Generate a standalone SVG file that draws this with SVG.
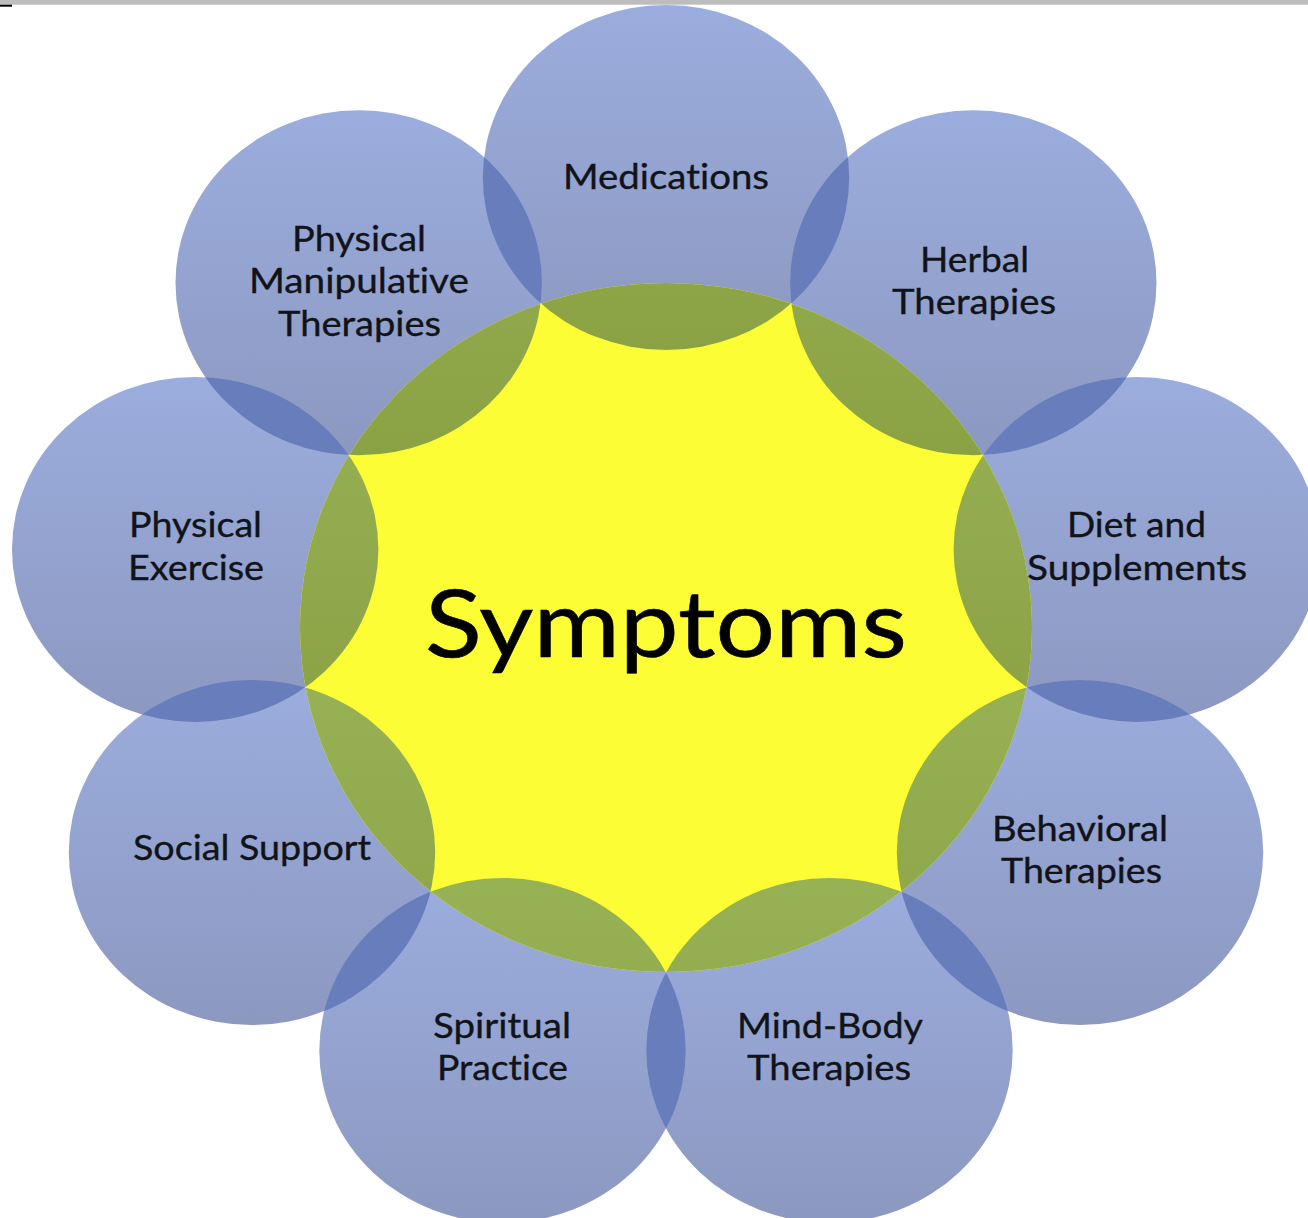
<svg xmlns="http://www.w3.org/2000/svg" xmlns:xlink="http://www.w3.org/1999/xlink" width="1308" height="1218" viewBox="0 0 1308 1218">
  <style>
    .petal { fill: url(#blueGrad); }
    .core { fill: #fdfd36; }
    .lensG { fill: url(#greenGrad); }
    .lensB { fill: #687dbc; }
    .lbl { font-family: "Lato", "Open Sans", sans-serif; font-size: 35px; fill: #111318; stroke: #111318; stroke-width: 0.35px; text-anchor: middle; font-variant-ligatures: none; font-feature-settings: "liga" 0, "dlig" 0; }
    .big { font-family: "Lato", "Open Sans", sans-serif; font-size: 94px; fill: #000; stroke: #000; stroke-width: 0.6px; text-anchor: middle; font-variant-ligatures: none; font-feature-settings: "liga" 0, "dlig" 0; }
  </style>
  <defs>
    <linearGradient id="blueGrad" x1="0" y1="0" x2="0" y2="1">
      <stop offset="0" stop-color="#9badde"/>
      <stop offset="1" stop-color="#8c98c0"/>
    </linearGradient>
    <linearGradient id="greenGrad" x1="0" y1="0" x2="0" y2="1">
      <stop offset="0" stop-color="#97b155"/>
      <stop offset="1" stop-color="#8ba244"/>
    </linearGradient>
    <!-- outer petals, 40 degrees apart, starting at the top -->
    <ellipse id="e0" cx="666" cy="177.5" rx="183.2" ry="172.5"/>
    <ellipse id="e1" cx="973.3" cy="282.8" rx="183.2" ry="172.5"/>
    <ellipse id="e2" cx="1136.8" cy="549.4" rx="183.2" ry="172.5"/>
    <ellipse id="e3" cx="1080" cy="852.5" rx="183.2" ry="172.5"/>
    <ellipse id="e4" cx="829.5" cy="1050.4" rx="183.2" ry="172.5"/>
    <ellipse id="e5" cx="502.5" cy="1050.4" rx="183.2" ry="172.5"/>
    <ellipse id="e6" cx="252" cy="852.5" rx="183.2" ry="172.5"/>
    <ellipse id="e7" cx="195.2" cy="549.4" rx="183.2" ry="172.5"/>
    <ellipse id="e8" cx="358.7" cy="282.8" rx="183.2" ry="172.5"/>
    <ellipse id="coreShape" cx="666" cy="627.5" rx="366" ry="344.5"/>
    <clipPath id="cCore"><use href="#coreShape"/></clipPath>
    <clipPath id="c0"><use href="#e0"/></clipPath>
    <clipPath id="c1"><use href="#e1"/></clipPath>
    <clipPath id="c2"><use href="#e2"/></clipPath>
    <clipPath id="c3"><use href="#e3"/></clipPath>
    <clipPath id="c4"><use href="#e4"/></clipPath>
    <clipPath id="c5"><use href="#e5"/></clipPath>
    <clipPath id="c6"><use href="#e6"/></clipPath>
    <clipPath id="c7"><use href="#e7"/></clipPath>
    <clipPath id="c8"><use href="#e8"/></clipPath>
  </defs>

  <rect x="0" y="0" width="1308" height="1218" fill="#ffffff"/>

  <g id="nodes">
    <g id="node-medications">
      <use href="#e0" class="petal"/>
      <text class="lbl" x="666" y="189" textLength="206" lengthAdjust="spacingAndGlyphs">Medications</text>
    </g>
    <g id="node-herbal">
      <use href="#e1" class="petal"/>
      <text class="lbl" x="974.5" y="272" textLength="109" lengthAdjust="spacingAndGlyphs">Herbal</text>
      <text class="lbl" x="974" y="314" textLength="164" lengthAdjust="spacingAndGlyphs">Therapies</text>
    </g>
    <g id="node-diet">
      <use href="#e2" class="petal"/>
      <text class="lbl" x="1136.5" y="537" textLength="139" lengthAdjust="spacingAndGlyphs">Diet and</text>
      <text class="lbl" x="1137" y="580" textLength="220" lengthAdjust="spacingAndGlyphs">Supplements</text>
    </g>
    <g id="node-behavioral">
      <use href="#e3" class="petal"/>
      <text class="lbl" x="1080" y="841" textLength="176" lengthAdjust="spacingAndGlyphs">Behavioral</text>
      <text class="lbl" x="1081.5" y="883" textLength="161" lengthAdjust="spacingAndGlyphs">Therapies</text>
    </g>
    <g id="node-mindbody">
      <use href="#e4" class="petal"/>
      <text class="lbl" x="830" y="1038" textLength="186" lengthAdjust="spacingAndGlyphs">Mind-Body</text>
      <text class="lbl" x="829" y="1080" textLength="164" lengthAdjust="spacingAndGlyphs">Therapies</text>
    </g>
    <g id="node-spiritual">
      <use href="#e5" class="petal"/>
      <text class="lbl" x="502" y="1038" textLength="138" lengthAdjust="spacingAndGlyphs">Spiritual</text>
      <text class="lbl" x="502.5" y="1080" textLength="131" lengthAdjust="spacingAndGlyphs">Practice</text>
    </g>
    <g id="node-social">
      <use href="#e6" class="petal"/>
      <text class="lbl" x="252" y="860" textLength="238" lengthAdjust="spacingAndGlyphs">Social Support</text>
    </g>
    <g id="node-exercise">
      <use href="#e7" class="petal"/>
      <text class="lbl" x="195.5" y="537" textLength="133" lengthAdjust="spacingAndGlyphs">Physical</text>
      <text class="lbl" x="196" y="580" textLength="136" lengthAdjust="spacingAndGlyphs">Exercise</text>
    </g>
    <g id="node-manipulative">
      <use href="#e8" class="petal"/>
      <text class="lbl" x="359" y="251" textLength="134" lengthAdjust="spacingAndGlyphs">Physical</text>
      <text class="lbl" x="359" y="293" textLength="220" lengthAdjust="spacingAndGlyphs">Manipulative</text>
      <text class="lbl" x="359.5" y="336" textLength="163" lengthAdjust="spacingAndGlyphs">Therapies</text>
    </g>
  </g>

  <g id="node-symptoms">
    <use href="#coreShape" class="core"/>
    <text class="big" x="666" y="657" textLength="482" lengthAdjust="spacingAndGlyphs">Symptoms</text>
  </g>

  <!-- overlap tints: petals over the core, and neighbouring petals over each other -->
  <g id="overlaps">
    <g clip-path="url(#cCore)">
      <use href="#e0" class="lensG"/>
      <use href="#e1" class="lensG"/>
      <use href="#e2" class="lensG"/>
      <use href="#e3" class="lensG"/>
      <use href="#e4" class="lensG"/>
      <use href="#e5" class="lensG"/>
      <use href="#e6" class="lensG"/>
      <use href="#e7" class="lensG"/>
      <use href="#e8" class="lensG"/>
    </g>
    <use href="#e0" class="lensB" clip-path="url(#c1)"/>
    <use href="#e1" class="lensB" clip-path="url(#c2)"/>
    <use href="#e2" class="lensB" clip-path="url(#c3)"/>
    <use href="#e3" class="lensB" clip-path="url(#c4)"/>
    <use href="#e4" class="lensB" clip-path="url(#c5)"/>
    <use href="#e5" class="lensB" clip-path="url(#c6)"/>
    <use href="#e6" class="lensB" clip-path="url(#c7)"/>
    <use href="#e7" class="lensB" clip-path="url(#c8)"/>
    <use href="#e8" class="lensB" clip-path="url(#c0)"/>
  </g>

  <!-- top border strip -->
  <rect x="0" y="0" width="1308" height="4.7" fill="#bdbdbd"/>
  <rect x="0" y="4.7" width="12" height="2" fill="#000000"/>
</svg>
